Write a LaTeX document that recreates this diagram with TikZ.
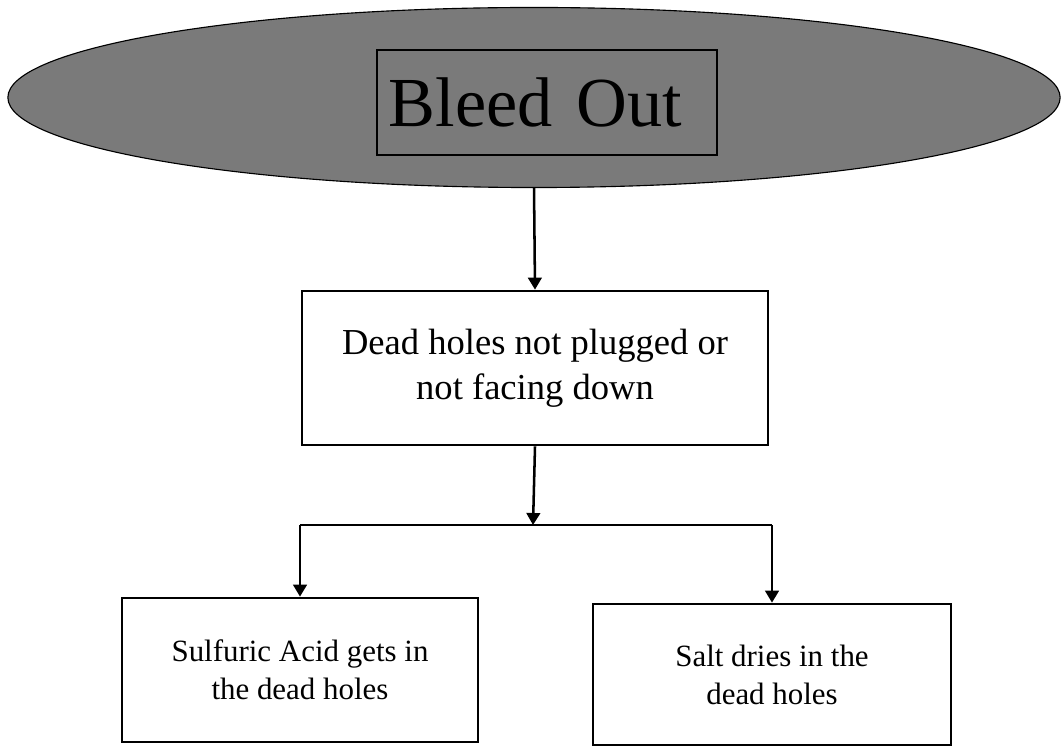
\documentclass[tikz,border=0pt]{standalone}
\usepackage{fontspec}
\setmainfont{Liberation Serif}
\usepackage{tikz}
\usetikzlibrary{shapes.geometric,arrows.meta}

\begin{document}
\begin{tikzpicture}[x=0.025cm, y=-0.025cm]
    % Definición de estilos
    \tikzstyle{caja}=[draw=black, line width=1.9pt, fill=white, rectangle, inner sep=0pt, align=center]
    \tikzstyle{flecha}=[line width=1.8pt, -{Triangle[length=3mm, width=3.4mm]}]
    \tikzstyle{linea}=[line width=1.8pt]
    % Marco del dibujo
    \useasboundingbox (0,0) rectangle (1062,747);
    % Elipse del título
    \node[ellipse, draw=black, thick, fill=black!52, inner sep=0pt, outer sep=0pt,
          minimum width=26.3cm, minimum height=4.5cm] (bleed) at (534,97.5) {};
    \node[draw=black, line width=1.4pt, inner sep=0pt, text width=8.1cm, align=left,
          minimum width=8.5cm, minimum height=2.625cm, font=\fontsize{50}{56}\selectfont]
          (titulo) at (547,102.5) {\hspace*{0.1cm}Bleed Out};
    % Causa principal
    \node[caja, minimum width=11.65cm, minimum height=3.85cm,
          font=\fontsize{26}{32}\selectfont] (huecos) at (535,368)
          {Dead holes not plugged or\\not facing down};
    % Consecuencias
    \node[caja, minimum width=8.9cm, minimum height=3.6cm,
          font=\fontsize{22}{27}\selectfont] (acido) at (300,670)
          {Sulfuric Acid gets in\\the dead holes};
    \node[caja, minimum width=8.95cm, minimum height=3.525cm,
          font=\fontsize{22}{27}\selectfont] (sal) at (772,674.5)
          {Salt dries in the\\dead holes};
    % Conectores
    \coordinate (rama) at (533,525);
    \draw[flecha] (bleed.south) -- (huecos.north);
    \draw[flecha] (huecos.south) -- (rama);
    \draw[linea] (acido.north |- rama) -- (sal.north |- rama);
    \draw[flecha] (acido.north |- rama) -- (acido.north);
    \draw[flecha] (sal.north |- rama) -- (sal.north);
\end{tikzpicture}
\end{document}
